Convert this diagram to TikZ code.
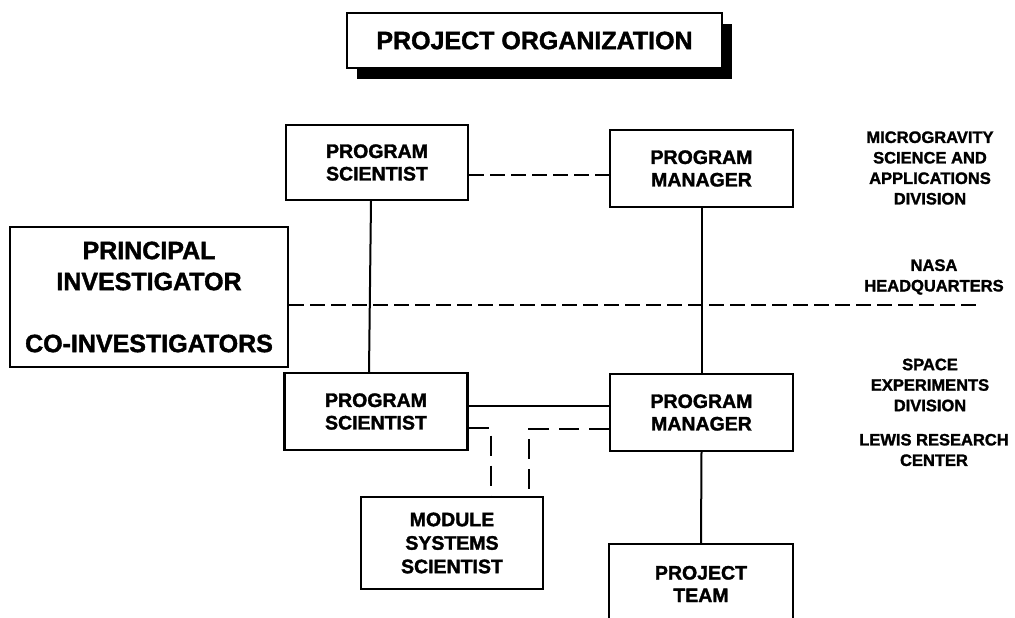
\documentclass[tikz,border=0pt]{standalone}
\usepackage{fontspec}
\setmainfont{Liberation Sans}[BoldFeatures={FakeBold=1.6}]
\usetikzlibrary{positioning, shadows}

\begin{document}
\begin{tikzpicture}[x=1pt, y=1pt]

	\tikzstyle{box}=[rectangle, draw=black, line width=2.2pt, align=center, inner sep=0pt, fill=white, font=\bfseries\fontsize{19.5}{22.5}\selectfont]
	\tikzstyle{orglabel}=[align=center, inner sep=0pt, font=\bfseries\fontsize{16.5}{20.5}\selectfont]
	\tikzstyle{link}=[line width=2pt]
	\tikzstyle{dashlink}=[link, dash pattern=on 15pt off 6pt]
	\tikzstyle{longdash}=[link, line width=2.2pt, dash pattern=on 20pt off 10pt]

	\useasboundingbox (0,0) rectangle (1015,618);

	\node at (534.5,577.5) (title) [box, line width=1.4pt, minimum width=375pt, minimum height=55pt, drop shadow={shadow xshift=10pt, shadow yshift=-11pt, fill=black, opacity=1}, font=\bfseries\fontsize{25}{30}\selectfont] {PROJECT ORGANIZATION};

	\node at (377,455.5) (psTop) [box, minimum width=182pt, minimum height=75pt] {PROGRAM\\SCIENTIST};
	\node at (701.5,449.5) (pmTop) [box, minimum width=183pt, minimum height=77pt] {PROGRAM\\MANAGER};
	\node at (149,321) (pi) [box, minimum width=278pt, minimum height=140pt, font=\bfseries\fontsize{25}{31}\selectfont] {PRINCIPAL\\INVESTIGATOR\\[31pt]CO-INVESTIGATORS};
	\node at (376,206.5) (psBot) [box, minimum width=183pt, minimum height=77pt] {PROGRAM\\SCIENTIST};
	\node at (701.5,205.5) (pmBot) [box, minimum width=183pt, minimum height=77pt] {PROGRAM\\MANAGER};
	\node at (452,75) (module) [box, minimum width=182pt, minimum height=92pt, font=\bfseries\fontsize{19.5}{23.5}\selectfont] {MODULE\\SYSTEMS\\SCIENTIST};
	\node at (701,34) (team) [box, minimum width=184pt, minimum height=80pt] {PROJECT\\TEAM};

	% levels on the right
	\node at (930,450) (msad) [orglabel] {MICROGRAVITY\\SCIENCE AND\\APPLICATIONS\\DIVISION};
	\node at (934,341) (hq) [orglabel] {NASA\\HEADQUARTERS};
	\node at (930,233) (sed) [orglabel] {SPACE\\EXPERIMENTS\\DIVISION};
	\node at (934,168) (lerc) [orglabel] {LEWIS RESEARCH\\CENTER};

	\coordinate (hqEnd) at (977,313);
	\coordinate (topDash) at (540,443);
	\coordinate (botLink) at (540,212);

	\draw[link] ([xshift=-6pt]psTop.south) -- ([xshift=-7pt]psBot.north);
	\draw[link] (pmTop.south) -- (pmBot.north);
	\draw[dashlink] (psTop.east |- topDash) -- (pmTop.west |- topDash);
	\draw[dashlink] (pi.east |- hqEnd) -- (hqEnd);
	\draw[link] (psBot.east |- botLink) -- (pmBot.west |- botLink);
	\draw[longdash] ([yshift=-16.5pt]psBot.east) -| ([xshift=39pt]module.north);
	\draw[longdash] ([yshift=-16.5pt]pmBot.west) -| ([xshift=77pt]module.north);
	\draw[link] (pmBot.south) -- (team.north);

\end{tikzpicture}
\end{document}
